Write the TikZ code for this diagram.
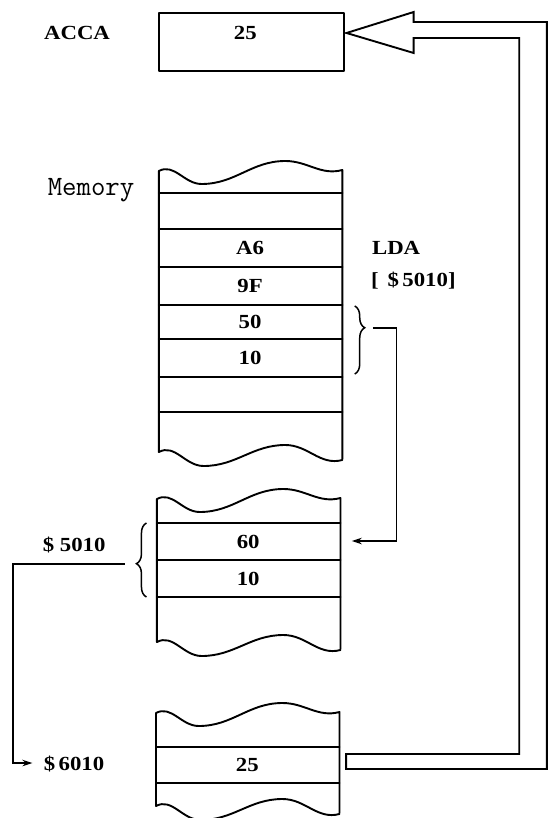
\documentclass[tikz,border=0pt]{standalone}
\usepackage{fontspec}
\setmainfont{Liberation Serif}[FakeStretch=1.14]
\usetikzlibrary{arrows.meta,decorations.pathreplacing}

\newcommand\memstack[3]{%
  % #1 left x, #2 top y, #3 bottom y
  \draw[ln] (#1,#3) -- (#1,#2) to[out=28,in=180] ++(45,13) to[out=0,in=180] ++(88,-23) to[out=0,in=195] ++(60,9) -- ++(0,{#3-#2+8});
  \draw[ln] (#1,#3) to[out=28,in=180] ++(47,14) to[out=0,in=180] ++(86,-21) to[out=0,in=195] ++(60,15);
}
\newcommand\cellline[2]{\draw[ln] (#1,#2) -- ++(193,0);}

\begin{document}
\begin{tikzpicture}[x=0.951pt,y=-1pt,
  every node/.style={inner sep=0pt, font=\fontsize{20}{20}\selectfont\bfseries},
  ln/.style={line width=1.9pt, line cap=round, line join=round},
  conn/.style={line width=1.7pt, -{Stealth[length=10pt,width=6.5pt]}},
  brc/.style={line width=1.5pt, decorate, decoration={brace, amplitude=10pt, aspect=#1}},
  lbl/.style={anchor=west}]
\path[use as bounding box] (0,0) rectangle (578.34,818);

% ACCA
\node (accalbl) at (81,33) {ACCA};
\node[draw, ln, minimum width=185pt, minimum height=58pt] (acca) at (264,42) {};
\node (accav) at (258,33) {25};

% Memory stack 1
\node[anchor=base west, font=\ttfamily\fontsize{28}{28}\selectfont] (memlbl) at (50,196) {Memory};
\memstack{167}{171}{452}
\foreach \y in {193,229,267,305,339,377,412} {\cellline{167}{\y}}
\node (a6) at (263,248) {A6};
\node (n9f) at (263,286) {9F};
\node (n50) at (263,322) {50};
\node (n10a) at (263,358) {10};
\node[lbl] (lda) at (391,248) {LDA};
\node[lbl] (ldaaddr) at (390,281) {[\,\ \$\,5010]};

% Memory stack 2
\memstack{165}{499}{642}
\foreach \y in {523,560,597} {\cellline{165}{\y}}
\node (n60) at (261,542) {60};
\node (n10b) at (261,579) {10};
\node (l5010) at (78,545) {\$\ 5010};

% Memory stack 3
\memstack{164}{713}{806}
\foreach \y in {747,783} {\cellline{164}{\y}}
\node (n25) at (260,765) {25};
\node[lbl] (l6010) at (46,764) {\$\,6010};

% braces and connectors
\draw[brc=0.32] (373,306) -- (373,374);
\coordinate (b1tip) at (392,328);
\coordinate (in60) at (370,541);
\draw[conn] (b1tip) -- ++(25,0) |- (in60);

\draw[brc=0.45] (154,597) -- (154,523);
\coordinate (b2tip) at (131,564);
\coordinate (in6010) at (34,763);
\draw[conn] (b2tip) -- ++(-117,0) |- (in6010);

% hollow transfer arrow
\draw[ln, line join=miter] ([xshift=2pt]acca.east |- accav.center) -- (435,12) -- (435,22) -- (575,22) -- (575,769) -- (364,769) -- (364,754) -- (546,754) -- (546,38) -- (435,38) -- (435,53) -- cycle;
\end{tikzpicture}
\end{document}
